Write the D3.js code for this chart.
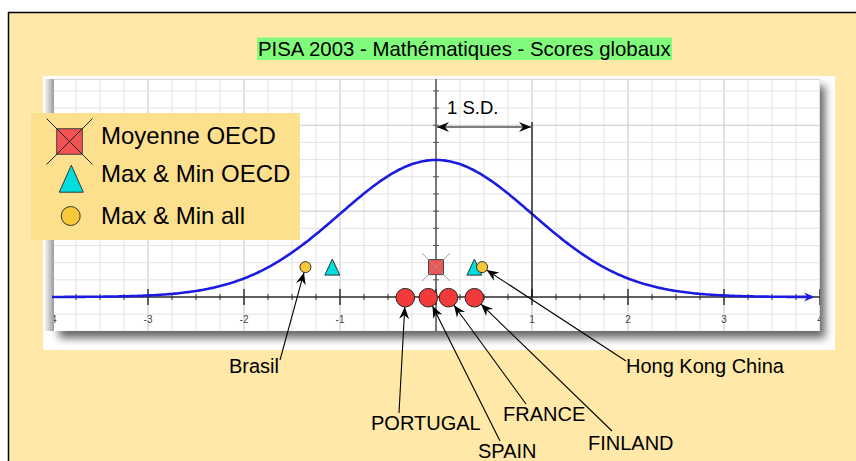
<!DOCTYPE html>
<html>
<head>
<meta charset="utf-8">
<script src="https://cdn.jsdelivr.net/npm/d3@7"></script>
<style>
  html, body { margin: 0; padding: 0; background: #fff; }
  svg { display: block; font-family: "Liberation Sans", Arial, sans-serif; }
</style>
</head>
<body>
<svg id="chart" width="856" height="461"></svg>
<script>
var titleText = "PISA 2003 - Mathématiques - Scores globaux";
var tickValues = [-4, -3, -2, -1, 1, 2, 3, 4];
var tickLabels = ["-4", "-3", "-2", "-1", "1", "2", "3", "4"];
var curveMean = 0, curveSd = 1;
var sdLabel = "1 S.D.";

// scores in S.D. units from the OECD mean
var oecdMean = [0];
var oecdMaxMin = [-1.08, 0.40];
var allMaxMin = [-1.36, 0.48];
var allNames = ["Brasil", "Hong Kong China"];
var countryNames = ["PORTUGAL", "SPAIN", "FRANCE", "FINLAND"];
var countryScores = [-0.32, -0.08, 0.13, 0.40];
var legendLabels = ["Moyenne OECD", "Max & Min OECD", "Max & Min all"];

// label placement (text start / baseline, and where the leader line leaves the text)
var labelLayout = {
  "Brasil": {tx: 229, ty: 373, lx: 280, ly: 360},
  "Hong Kong China": {tx: 626, ty: 373, lx: 626, ly: 361},
  "PORTUGAL": {tx: 371, ty: 430, lx: 399, ly: 413},
  "SPAIN": {tx: 478, ty: 458, lx: 500, ly: 441},
  "FRANCE": {tx: 503, ty: 421, lx: 526, ly: 404},
  "FINLAND": {tx: 588, ty: 450, lx: 612, ly: 431}
};

var svg = d3.select("#chart");
var defs = svg.append("defs");

defs.append("marker")
  .attr("id", "blackArrow")
  .attr("viewBox", "-12 -6 13 12")
  .attr("markerUnits", "userSpaceOnUse")
  .attr("markerWidth", 13).attr("markerHeight", 12)
  .attr("refX", 0).attr("refY", 0)
  .attr("orient", "auto-start-reverse")
  .append("path")
    .attr("d", "M0,0 L-12,-5 L-8,0 L-12,5 Z")
    .attr("fill", "#000");

defs.append("marker")
  .attr("id", "blueArrow")
  .attr("viewBox", "-10 -5 11 10")
  .attr("markerUnits", "userSpaceOnUse")
  .attr("markerWidth", 11).attr("markerHeight", 10)
  .attr("refX", -2).attr("refY", 0)
  .attr("orient", "auto")
  .append("path")
    .attr("d", "M0,0 L-10,-4.5 L-7,0 L-10,4.5 Z")
    .attr("fill", "#1c1ce0");

var shadow = defs.append("filter").attr("id", "shadow")
  .attr("x", "-5%").attr("y", "-10%").attr("width", "112%").attr("height", "130%");
shadow.append("feDropShadow")
  .attr("dx", 5).attr("dy", 7).attr("stdDeviation", 4)
  .attr("flood-color", "#000").attr("flood-opacity", 0.6);

var leftGrad = defs.append("linearGradient").attr("id", "leftGrad");
leftGrad.append("stop").attr("offset", "0%").attr("stop-color", "#fff");
leftGrad.append("stop").attr("offset", "100%").attr("stop-color", "#9a9a9a");

defs.append("clipPath").attr("id", "plotClip")
  .append("rect").attr("x", 54).attr("y", 79).attr("width", 766).attr("height", 252);

// page background
svg.append("rect").attr("x", 8).attr("y", 12).attr("width", 848).attr("height", 449)
  .attr("fill", "#ffe8a8");
svg.append("line").attr("x1", 8).attr("y1", 12.5).attr("x2", 856).attr("y2", 12.5)
  .attr("stroke", "#000").attr("stroke-width", 1.5);
svg.append("line").attr("x1", 8.5).attr("y1", 12).attr("x2", 8.5).attr("y2", 461)
  .attr("stroke", "#000").attr("stroke-width", 1.5);

// title
svg.append("rect").attr("x", 257).attr("y", 37.5).attr("width", 415).attr("height", 22.5)
  .attr("fill", "#80fb7c");
svg.append("text").attr("x", 258).attr("y", 56)
  .style("font-size", "20.4px").attr("fill", "#000")
  .text(titleText);

// white panel with the graph
svg.append("rect").attr("x", 43).attr("y", 76).attr("width", 792).attr("height", 274)
  .attr("fill", "#fff");
svg.append("rect").attr("x", 54).attr("y", 79).attr("width", 766).attr("height", 252)
  .attr("fill", "#fff").attr("filter", "url(#shadow)");
svg.append("rect").attr("x", 44).attr("y", 79).attr("width", 10).attr("height", 252)
  .attr("fill", "url(#leftGrad)");
svg.append("line").attr("x1", 54).attr("y1", 79.5).attr("x2", 820).attr("y2", 79.5)
  .attr("stroke", "#d8d8d8");

var x = d3.scaleLinear().domain([-4, 4]).range([52, 820]);
var y = d3.scaleLinear().domain([0, 0.4]).range([297, 159.6]);
var markerLevel = 0.087;

var g = svg.append("g").attr("clip-path", "url(#plotClip)");

// grid
var xGrid = d3.range(-16, 17).map(function (i) { return i / 4; });
var yGrid = d3.range(-2, 13).map(function (i) { return i / 20; });

g.selectAll("line.vgrid")
  .data(xGrid)
  .enter().append("line")
    .attr("class", "vgrid")
    .attr("x1", function (d) { return x(d); })
    .attr("x2", function (d) { return x(d); })
    .attr("y1", 79).attr("y2", 331)
    .attr("stroke", function (d) { return d % 1 === 0 ? "#c4c4c4" : "#e3e3e3"; })
    .attr("stroke-width", 1);

g.selectAll("line.hgrid")
  .data(yGrid)
  .enter().append("line")
    .attr("class", "hgrid")
    .attr("x1", 54).attr("x2", 820)
    .attr("y1", function (d) { return y(d); })
    .attr("y2", function (d) { return y(d); })
    .attr("stroke", function (d) { return Math.abs(d * 4 - Math.round(d * 4)) < 1e-9 ? "#c8c8c8" : "#e3e3e3"; })
    .attr("stroke-width", 1);

// vertical axis
g.append("line")
  .attr("x1", x(0)).attr("x2", x(0)).attr("y1", 79).attr("y2", 331)
  .attr("stroke", "#555").attr("stroke-width", 1.5);
g.selectAll("line.vtick")
  .data(yGrid)
  .enter().append("line")
    .attr("x1", x(0) - 3).attr("x2", x(0) + 3)
    .attr("y1", function (d) { return y(d); })
    .attr("y2", function (d) { return y(d); })
    .attr("stroke", "#555");

// horizontal axis
g.append("line")
  .attr("x1", x(-4)).attr("x2", x(4)).attr("y1", y(0)).attr("y2", y(0))
  .attr("stroke", "#333").attr("stroke-width", 1.3);
g.selectAll("line.htick")
  .data(xGrid)
  .enter().append("line")
    .attr("x1", function (d) { return x(d); })
    .attr("x2", function (d) { return x(d); })
    .attr("y1", function (d) { return y(0) - (d % 1 === 0 ? 8 : 3); })
    .attr("y2", function (d) { return y(0) + (d % 1 === 0 ? 8 : 3); })
    .attr("stroke", "#333")
    .attr("stroke-width", function (d) { return d % 1 === 0 ? 1.5 : 1; });

g.selectAll("text.tick")
  .data(tickValues)
  .enter().append("text")
    .attr("x", function (d) { return x(d); })
    .attr("y", y(0) + 26)
    .attr("text-anchor", "middle")
    .style("font-size", "10px")
    .attr("fill", "#444")
    .text(function (d, i) { return tickLabels[i]; });

// normal curve
var normalPdf = function (v) {
  var z = (v - curveMean) / curveSd;
  return Math.exp(-0.5 * z * z) / (curveSd * Math.sqrt(2 * Math.PI));
};
var curveX = d3.range(-400, 393, 2).map(function (i) { return i / 100; });
var line = d3.line()
  .x(function (d) { return x(d); })
  .y(function (d) { return y(normalPdf(d)); });

svg.append("path")
  .datum(curveX)
  .attr("d", line)
  .attr("fill", "none")
  .attr("stroke", "#1c1ce0")
  .attr("stroke-width", 2.6)
  .attr("marker-end", "url(#blueArrow)");

// 1 S.D. annotation
svg.append("line")
  .attr("x1", x(curveMean + curveSd)).attr("x2", x(curveMean + curveSd))
  .attr("y1", 122).attr("y2", y(0))
  .attr("stroke", "#000").attr("stroke-width", 1.2);
svg.append("line")
  .attr("x1", x(curveMean) + 1).attr("x2", x(curveMean + curveSd) - 1)
  .attr("y1", 127).attr("y2", 127)
  .attr("stroke", "#000").attr("stroke-width", 1.2)
  .attr("marker-start", "url(#blackArrow)")
  .attr("marker-end", "url(#blackArrow)");
svg.append("text")
  .attr("x", 447).attr("y", 114)
  .style("font-size", "18.5px")
  .text(sdLabel);

// marker shapes
var drawMean = function (sel, cx, cy, half, xHalf, crossColor) {
  sel.append("rect")
    .attr("x", cx - half).attr("y", cy - half)
    .attr("width", 2 * half).attr("height", 2 * half)
    .attr("fill", "#f25252").attr("stroke", "#444").attr("stroke-width", 1);
  sel.append("path")
    .attr("d", "M" + (cx - xHalf) + "," + (cy - xHalf) + "L" + (cx + xHalf) + "," + (cy + xHalf) +
      "M" + (cx + xHalf) + "," + (cy - xHalf) + "L" + (cx - xHalf) + "," + (cy + xHalf))
    .attr("stroke", crossColor).attr("stroke-width", 1);
};
var triPath = function (cx, cy, w, h) {
  return "M" + cx + "," + (cy - h / 2) + "L" + (cx + w / 2) + "," + (cy + h / 2) +
    "L" + (cx - w / 2) + "," + (cy + h / 2) + "Z";
};

var yLevel = y(markerLevel);

// OECD mean
oecdMean.forEach(function (v) {
  drawMean(svg.append("g"), x(v), yLevel, 7.5, 14, "#9a9a9a");
});

// OECD max & min
svg.selectAll("path.tri")
  .data(oecdMaxMin)
  .enter().append("path")
    .attr("d", function (d) { return triPath(x(d), yLevel, 15, 16); })
    .attr("fill", "#00dede").attr("stroke", "#333").attr("stroke-width", 1);

// all max & min
svg.selectAll("circle.all")
  .data(allMaxMin)
  .enter().append("circle")
    .attr("cx", function (d) { return x(d); })
    .attr("cy", yLevel)
    .attr("r", 5.5)
    .attr("fill", "#f8c838").attr("stroke", "#333").attr("stroke-width", 1);

// countries on the axis
svg.selectAll("circle.country")
  .data(countryScores)
  .enter().append("circle")
    .attr("cx", function (d) { return x(d); })
    .attr("cy", y(0) + 0.7)
    .attr("r", 9.3)
    .attr("fill", "#f23a3a").attr("stroke", "#222").attr("stroke-width", 1);

// labels with leader arrows
var labelData = allNames.map(function (n, i) {
  return {name: n, cx: x(allMaxMin[i]), cy: yLevel, r: 5.5};
}).concat(countryNames.map(function (n, i) {
  return {name: n, cx: x(countryScores[i]), cy: y(0) + 0.7, r: 9.3};
}));

labelData.forEach(function (d) {
  var p = labelLayout[d.name];
  var dx = p.lx - d.cx, dy = p.ly - d.cy;
  var len = Math.sqrt(dx * dx + dy * dy);
  svg.append("line")
    .attr("x1", p.lx).attr("y1", p.ly)
    .attr("x2", d.cx + dx / len * d.r).attr("y2", d.cy + dy / len * d.r)
    .attr("stroke", "#000").attr("stroke-width", 1.1)
    .attr("marker-end", "url(#blackArrow)");
  svg.append("text")
    .attr("x", p.tx).attr("y", p.ty)
    .style("font-size", "20px")
    .text(d.name);
});

// legend
var lg = svg.append("g");
lg.append("rect").attr("x", 31).attr("y", 113).attr("width", 269).attr("height", 127)
  .attr("fill", "#fde08e");
drawMean(lg, 69.5, 141.5, 12.8, 23, "#222");
lg.append("path").attr("d", triPath(71.3, 178.7, 24, 27))
  .attr("fill", "#00dede").attr("stroke", "#333").attr("stroke-width", 1);
lg.append("circle").attr("cx", 70.7).attr("cy", 216).attr("r", 9.5)
  .attr("fill", "#f8c838").attr("stroke", "#333").attr("stroke-width", 1);
lg.selectAll("text")
  .data(legendLabels)
  .enter().append("text")
    .attr("x", 101)
    .attr("y", function (d, i) { return [144, 182, 224][i]; })
    .style("font-size", "24px")
    .text(function (d) { return d; });
</script>
</body>
</html>
